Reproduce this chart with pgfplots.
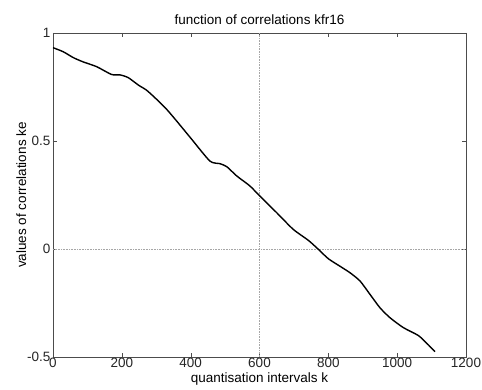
\documentclass[border=0pt]{standalone}
\usepackage{fontspec}
\setmainfont{Liberation Sans}
\usepackage{pgfplots}
\pgfplotsset{compat=1.18}
\begin{document}
\begin{tikzpicture}[x=1pt,y=1pt]
\useasboundingbox (-53,-33) rectangle (429,357);
\begin{axis}[
  at={(0,0)}, anchor=south west,
  scale only axis, width=413pt, height=324pt,
  xmin=0, xmax=1200, ymin=-0.5, ymax=1,
  xtick={0,200,...,1200}, ytick={-0.5,0,0.5,1},
  /pgf/number format/assume math mode=true,
  /pgf/number format/1000 sep={},
  xticklabel style={font=\fontsize{13.5}{14}\selectfont, text=black!85, yshift=2pt},
  yticklabel style={font=\fontsize{13.5}{14}\selectfont, text=black!85, xshift=1pt},
  scaled ticks=false,
  tick align=inside, major tick length=4pt,
  tick style={black!70},
  axis line style={black!70, line width=0.9pt},
  title={function of correlations kfr16},
  title style={font=\fontsize{13.5}{14}\selectfont, yshift=-1pt},
  xlabel={quantisation intervals k},
  ylabel={values of correlations ke},
  xlabel style={font=\fontsize{13.5}{14}\selectfont, yshift=2pt},
  ylabel style={font=\fontsize{13.5}{14}\selectfont, yshift=-6pt},
  every axis title/.append style={at={(0.5,1)}, above},
]
\addplot[black!35, densely dotted, line width=0.6pt] coordinates {(600,-0.5) (600,1)};
\addplot[black!35, densely dotted, line width=0.6pt] coordinates {(0,0) (1200,0)};
\addplot[black, line width=1.4pt, smooth, tension=0.4] coordinates {
(0,0.932) (30,0.913) (59,0.886) (88,0.866) (127,0.844) (170,0.808) (195,0.806)
(219,0.793) (248,0.759) (272,0.735) (301,0.693) (330,0.647) (359,0.593)
(403,0.508) (456,0.407) (485,0.395) (505,0.381) (534,0.338) (572,0.292)
(601,0.245) (650,0.168) (698,0.091) (742,0.040) (770,0.0) (800,-0.045)
(834,-0.080) (863,-0.110) (892,-0.148) (921,-0.21) (950,-0.272) (979,-0.318)
(1018,-0.364) (1061,-0.400) (1085,-0.435) (1110,-0.475)
};
\end{axis}
\end{tikzpicture}
\end{document}
